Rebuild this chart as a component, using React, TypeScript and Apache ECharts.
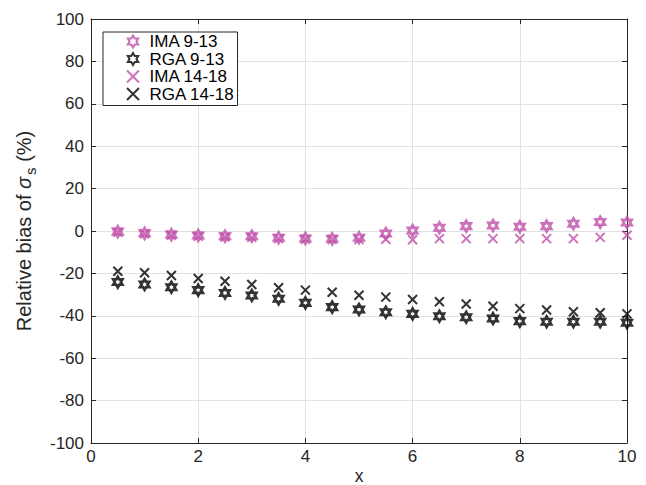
import React, { useEffect, useRef } from "react";
import * as echarts from "echarts";

const xValues: number[] = [0.5, 1, 1.5, 2, 2.5, 3, 3.5, 4, 4.5, 5, 5.5, 6, 6.5, 7, 7.5, 8, 8.5, 9, 9.5, 10];
const imaYoung: number[] = [-0.3, -1.1, -1.7, -2.1, -2.5, -2.5, -3.2, -3.5, -3.7, -3.2, -1.2, 0.2, 1.5, 2.3, 2.6, 2.0, 2.3, 3.4, 4.2, 4.0];
const rgaYoung: number[] = [-24.1, -25.2, -26.5, -27.9, -29.2, -30.4, -32.0, -33.9, -35.9, -37.0, -38.3, -39.1, -40.2, -40.7, -41.3, -42.5, -42.8, -42.8, -42.8, -43.3];
const imaOld: number[] = [-0.6, -1.3, -2.0, -2.5, -2.8, -3.0, -3.6, -3.9, -4.0, -4.0, -3.9, -4.1, -3.6, -3.6, -3.6, -3.6, -3.6, -3.6, -3.0, -2.0];
const rgaOld: number[] = [-19.0, -19.7, -21.0, -22.4, -23.7, -25.2, -26.8, -27.9, -28.9, -30.3, -31.2, -32.3, -33.4, -34.4, -35.5, -36.6, -37.3, -38.1, -38.6, -39.1];
const seriesNames: string[] = ["IMA 9-13", "RGA 9-13", "IMA 14-18", "RGA 14-18"];

const MAGENTA = "#bf4fa9";
const BLACK = "#000000";
const AXIS = "#262626";
const FONT = "'Liberation Sans', Arial, Helvetica, sans-serif";

const HEXAGRAM =
  "path://M10,0 L12.89,5 L18.66,5 L15.77,10 L18.66,15 L12.89,15 L10,20 L7.11,15 L1.34,15 L4.23,10 L1.34,5 L7.11,5 Z";
const CROSS = "path://M0,0 L10,10 M10,0 L0,10";

const pairs = (ys: number[]) => xValues.map((x, i) => [x, ys[i]]);

export default function App() {
  const ref = useRef<HTMLDivElement>(null);
  useEffect(() => {
    if (!ref.current) return;
    const chart = echarts.init(ref.current, null, { renderer: "svg" });
    const hexSeries = (name: string, color: string, ys: number[]) => ({
      name,
      type: "scatter",
      data: pairs(ys),
      symbol: HEXAGRAM,
      symbolSize: 10.5,
      symbolKeepAspect: true,
      itemStyle: { color: "transparent", borderColor: color, borderWidth: 2.8 },
      emphasis: { disabled: true },
    });
    const crossSeries = (name: string, color: string, ys: number[]) => ({
      name,
      type: "scatter",
      data: pairs(ys),
      symbol: CROSS,
      symbolSize: 9,
      itemStyle: { color: "transparent", borderColor: color, borderWidth: 2 },
      emphasis: { disabled: true },
    });
    chart.setOption({
      animation: false,
      textStyle: { fontFamily: FONT },
      grid: { left: 91, right: 19, top: 19, bottom: 42, containLabel: false, outerBoundsMode: "none" },
      legend: {
        orient: "vertical",
        left: 103,
        top: 32,
        data: seriesNames,
        itemWidth: 23,
        itemHeight: 12,
        itemGap: 0.5,
        padding: [1, 3, 3, 23],
        borderColor: AXIS,
        borderWidth: 1,
        backgroundColor: "#ffffff",
        textStyle: { fontSize: 17, color: "#000", fontFamily: FONT, lineHeight: 16 },
      },
      xAxis: [
        {
          type: "value",
          min: 0,
          max: 10,
          interval: 2,
          name: "x",
          nameLocation: "middle",
          nameMoveOverlap: false,
          nameGap: 24,
          nameTextStyle: { fontSize: 17.5, color: AXIS, fontFamily: FONT, lineHeight: 17 },
          axisLine: { show: true, onZero: false, lineStyle: { color: AXIS, width: 1 } },
          axisTick: { show: true, inside: true, length: 5, lineStyle: { color: AXIS } },
          axisLabel: { fontSize: 17, color: AXIS, margin: 5, fontFamily: FONT },
          splitLine: { show: true, lineStyle: { color: "#e2e2e2", width: 1 } },
        },
        {
          type: "value",
          position: "top",
          min: 0,
          max: 10,
          interval: 2,
          axisLine: { show: true, onZero: false, lineStyle: { color: AXIS, width: 1 } },
          axisTick: { show: true, inside: true, length: 5, lineStyle: { color: AXIS } },
          axisLabel: { show: false },
          splitLine: { show: false },
        },
      ],
      yAxis: [
        {
          type: "value",
          min: -100,
          max: 100,
          interval: 20,
          name: "{a|Relative bias of }{g|σ}{sub|s}{a| (%)}",
          nameLocation: "middle",
          nameGap: 56,
          nameTextStyle: {
            fontSize: 20,
            color: AXIS,
            fontFamily: FONT,
            rich: {
              a: { fontSize: 20, color: AXIS, fontFamily: FONT, lineHeight: 22 },
              g: { fontSize: 20, color: AXIS, fontFamily: FONT, fontStyle: "italic", lineHeight: 22 },
              sub: { fontSize: 15, color: AXIS, fontFamily: FONT, lineHeight: 15, padding: [12, 0, 0, 2] },
            },
          },
          axisLine: { show: true, onZero: false, lineStyle: { color: AXIS, width: 1 } },
          axisTick: { show: true, inside: true, length: 5, lineStyle: { color: AXIS } },
          axisLabel: { fontSize: 17, color: AXIS, margin: 7, fontFamily: FONT },
          splitLine: { show: true, lineStyle: { color: "#e2e2e2", width: 1 } },
        },
        {
          type: "value",
          position: "right",
          min: -100,
          max: 100,
          interval: 20,
          axisLine: { show: true, onZero: false, lineStyle: { color: AXIS, width: 1 } },
          axisTick: { show: true, inside: true, length: 5, lineStyle: { color: AXIS } },
          axisLabel: { show: false },
          splitLine: { show: false },
        },
      ],
      series: [
        hexSeries(seriesNames[0], MAGENTA, imaYoung),
        hexSeries(seriesNames[1], BLACK, rgaYoung),
        crossSeries(seriesNames[2], MAGENTA, imaOld),
        crossSeries(seriesNames[3], BLACK, rgaOld),
      ],
    });
    return () => chart.dispose();
  }, []);
  return (
    <div
      ref={ref}
      style={{ position: "fixed", left: 0, top: 0, width: 646, height: 485, background: "#fff" }}
    />
  );
}
